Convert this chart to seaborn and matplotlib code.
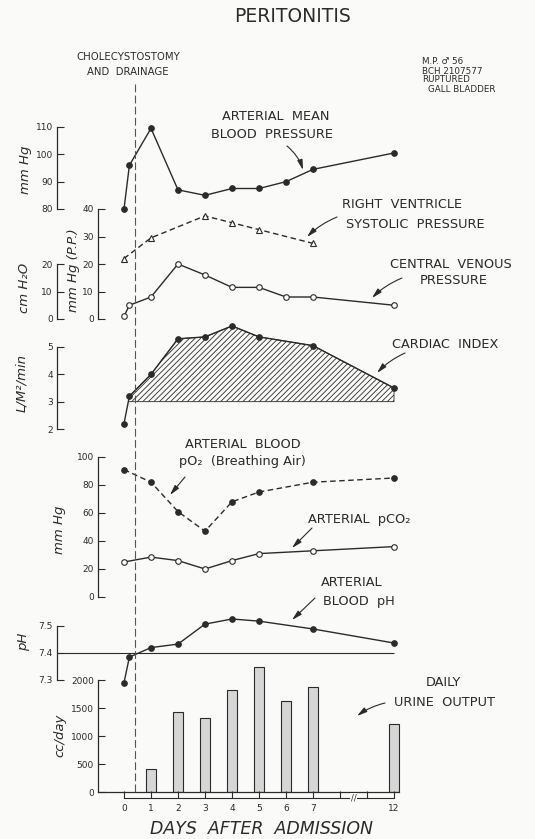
import numpy as np
import pandas as pd
import matplotlib
matplotlib.use("Agg")
import matplotlib.pyplot as plt
import seaborn as sns
from matplotlib.lines import Line2D
from matplotlib.transforms import blended_transform_factory

# ---------------- data ----------------
map_days = [0, 0.2, 1, 2, 3, 4, 5, 6, 7, 12]
map_vals = [80, 96, 109.5, 87, 85, 87.5, 87.5, 90, 94.5, 100.5]

rv_days = [0, 1, 3, 4, 5, 7]
rv_vals = [22, 29.5, 37.5, 35, 32.5, 27.5]

cvp_days = [0, 0.2, 1, 2, 3, 4, 5, 6, 7, 12]
cvp_vals = [1, 5, 8, 20, 16, 11.5, 11.5, 8, 8, 5]

ci_days = [0, 0.2, 1, 2, 3, 4, 5, 7, 12]
ci_vals = [2.2, 3.2, 4.0, 5.3, 5.37, 5.77, 5.37, 5.05, 3.5]
ci_base = 3.0

gas_days = [0, 1, 2, 3, 4, 5, 7, 12]
po2_vals = [91, 82, 61, 47, 68, 75, 82, 85]
pco2_vals = [25, 28.5, 26, 20, 26, 31, 33, 36]

ph_days = [0, 0.2, 1, 2, 3, 4, 5, 7, 12]
ph_vals = [7.29, 7.385, 7.42, 7.433, 7.507, 7.526, 7.518, 7.489, 7.437]
ph_ref = 7.4

urine_days = [1, 2, 3, 4, 5, 6, 7, 12]
urine_vals = [410, 1430, 1320, 1820, 2230, 1625, 1875, 1215]

x_tick_days = [0, 1, 2, 3, 4, 5, 6, 7, 8, 9, 10]
x_tick_labels = ["0", "1", "2", "3", "4", "5", "6", "7", "", "", "12"]
operation_day = 0.4


def to_pos(d):
    """broken time axis: days after 7 are compressed (day 12 -> position 10)"""
    d = np.asarray(d, dtype=float)
    return np.where(d <= 7, d, d - 2)


# ---------------- styling ----------------
W, H = 535, 839
X0, DX = 124, 27.0
RIGHT = 420
INK = "#2b2b2b"
BG = "#fafaf8"

sns.set_theme(style="white")
plt.rcParams.update({
    "font.family": ["DejaVu Sans"],
    "hatch.linewidth": 0.6,
    "hatch.color": INK,
    "text.color": INK,
})

fig = plt.figure(figsize=(W / 100, H / 100), dpi=100, facecolor=BG)


def px_axes(spine_px, top_px, bot_px, px0, v0, px1, v1):
    ax = fig.add_axes([spine_px / W, 1 - bot_px / H,
                       (RIGHT - spine_px) / W, (bot_px - top_px) / H])
    ax.set_xlim((spine_px - X0) / DX, (RIGHT - X0) / DX)
    s = (v1 - v0) / (px0 - px1)
    ax.set_ylim(v0 + (px0 - bot_px) * s, v0 + (px0 - top_px) * s)
    ax.patch.set_visible(False)
    for k in ["top", "right", "bottom"]:
        ax.spines[k].set_visible(False)
    ax.spines["left"].set_color(INK)
    ax.spines["left"].set_linewidth(0.9)
    ax.tick_params(axis="y", direction="in", length=5, width=0.8, colors=INK,
                   labelsize=6.5, pad=3, left=True)
    ax.set_xticks([])
    return ax


def line(ax, days, vals, filled=True, dashed=False, marker="o", ms=4):
    sns.lineplot(x=to_pos(days), y=vals, ax=ax, color=INK, lw=1.0,
                 linestyle=(0, (4, 2.5)) if dashed else "-",
                 marker=marker, markersize=ms,
                 markerfacecolor=INK if filled else "white",
                 markeredgecolor=INK, markeredgewidth=0.8, sort=False,
                 clip_on=False)
    ax.set_xlabel("")
    ax.set_ylabel("")


# Arterial mean blood pressure
ax1 = px_axes(57, 118, 215, 209, 80, 127, 110)
line(ax1, map_days, map_vals, filled=True)
ax1.set_yticks([80, 90, 100, 110])
ax1.spines["left"].set_bounds(80, 110)

# Right ventricle systolic pressure
ax2 = px_axes(98, 200, 325, 319, 0, 209, 40)
line(ax2, rv_days, rv_vals, filled=False, dashed=True, marker="^", ms=4)
ax2.set_yticks([0, 10, 20, 30, 40])
ax2.spines["left"].set_bounds(0, 40)

# Central venous pressure
ax3 = px_axes(57, 255, 325, 319, 0, 264, 20)
line(ax3, cvp_days, cvp_vals, filled=False)
ax3.set_yticks([0, 10, 20])
ax3.spines["left"].set_bounds(0, 20)

# Cardiac index
ax4 = px_axes(57, 310, 435, 429, 2, 347, 5)
cx = to_pos(ci_days)
cy = np.array(ci_vals)
ax4.fill_between(cx, cy, ci_base, where=cy >= ci_base, interpolate=True,
                 facecolor="none", edgecolor=INK, hatch="//////", linewidth=0.6)
line(ax4, ci_days, ci_vals, filled=True)
ax4.set_yticks([2, 3, 4, 5])
ax4.spines["left"].set_bounds(2, 5)

# Blood gases
ax5 = px_axes(98, 440, 600, 597, 0, 457, 100)
line(ax5, gas_days, po2_vals, filled=True, dashed=True)
line(ax5, gas_days, pco2_vals, filled=False)
ax5.set_yticks([0, 20, 40, 60, 80, 100])
ax5.spines["left"].set_bounds(0, 100)

# pH
ax6 = px_axes(57, 605, 690, 680, 7.3, 626, 7.5)
ax6.hlines(ph_ref, ax6.get_xlim()[0], to_pos(12), color=INK, lw=0.8)
line(ax6, ph_days, ph_vals, filled=True)
ax6.set_yticks([7.3, 7.4, 7.5])
ax6.set_yticklabels(["7.3", "7.4", "7.5"])
ax6.spines["left"].set_bounds(7.3, 7.5)

# Urine output
ax7 = px_axes(98, 650, 792, 792, 0, 680, 2000)
sns.barplot(x=to_pos(urine_days), y=urine_vals, ax=ax7, native_scale=True,
            width=0.4, color="#d6d6d6", edgecolor=INK, linewidth=0.8,
            errorbar=None, saturation=1)
ax7.set_xlim((98 - X0) / DX, (RIGHT - X0) / DX)
ax7.set_xticks([])
ax7.set_xlabel("")
ax7.set_ylabel("")
ax7.set_yticks([0, 500, 1000, 1500, 2000])
ax7.spines["left"].set_bounds(0, 2000)
ax7.spines["bottom"].set_visible(True)
ax7.spines["bottom"].set_color(INK)
ax7.spines["bottom"].set_linewidth(0.9)
ax7.spines["bottom"].set_bounds(ax7.get_xlim()[0], to_pos(12) + 0.2)

# x axis
axx = px_axes(98, 780, 798, 798, 0, 780, 1)
axx.spines["left"].set_visible(False)
axx.set_yticks([])
axx.spines["bottom"].set_visible(True)
axx.spines["bottom"].set_color(INK)
axx.spines["bottom"].set_linewidth(0.8)
axx.spines["bottom"].set_bounds(0, 10)
axx.set_xticks(x_tick_days)
axx.set_xticklabels(x_tick_labels)
axx.tick_params(axis="x", direction="in", length=5, width=0.8, colors=INK,
                labelsize=6.5, pad=4, bottom=True)
axx.text(8.5, 0, "//", transform=blended_transform_factory(axx.transData, axx.transAxes),
         ha="center", va="center", fontsize=6, color=INK,
         bbox=dict(facecolor=BG, edgecolor="none", pad=0.3))

# operation marker
fig.add_artist(Line2D([operation_day, operation_day], [1 - 84 / H, 1 - 795 / H],
                      transform=blended_transform_factory(axx.transData, fig.transFigure),
                      color="#555555", lw=0.8, linestyle=(0, (7, 3))))

# ---------------- text overlay ----------------
ov = fig.add_axes([0, 0, 1, 1])
ov.set_xlim(0, W)
ov.set_ylim(H, 0)
ov.axis("off")
ov.patch.set_visible(False)

ov.text(292, 16, "PERITONITIS", ha="center", va="center", fontsize=13.5)
ov.text(128, 57, "CHOLECYSTOSTOMY", ha="center", va="center", fontsize=7.3)
ov.text(128, 72, "AND  DRAINAGE", ha="center", va="center", fontsize=7.3)
for y, s, x in [(61, "M.P. \u2642 56", 422), (71, "BCH 2107577", 422),
                (80, "RUPTURED", 422), (89, "GALL BLADDER", 428)]:
    ov.text(x, y, s, ha="left", va="center", fontsize=6.3)

# y-axis labels
for x, y, s in [(25, 170, "mm Hg"), (73, 270, "mm Hg (P.P.)"),
                (25, 288, "cm H\u2082O"), (22, 383, "L/M\u00b2/min"),
                (60, 530, "mm Hg"), (24, 642, "pH"), (60, 735, "cc/day")]:
    ov.text(x, y, s, ha="center", va="center", rotation=90, fontsize=9.5,
            style="italic")

ov.text(262, 829, "DAYS  AFTER  ADMISSION", ha="center", va="center",
        fontsize=12.5, style="italic")

FS = 9.3
labels = [
    (276, 116, "ARTERIAL  MEAN"), (272, 134, "BLOOD  PRESSURE"),
    (402, 205, "RIGHT  VENTRICLE"), (415, 224, "SYSTOLIC  PRESSURE"),
    (451, 264, "CENTRAL  VENOUS"), (454, 280, "PRESSURE"),
    (445, 345, "CARDIAC  INDEX"),
    (243, 445, "ARTERIAL  BLOOD"), (242, 462, "pO\u2082  (Breathing Air)"),
    (359, 520, "ARTERIAL  pCO\u2082"),
    (352, 583, "ARTERIAL"), (359, 602, "BLOOD  pH"),
    (443, 683, "DAILY"), (445, 703, "URINE  OUTPUT"),
]
for x, y, s in labels:
    ov.text(x, y, s, ha="center", va="center", fontsize=FS)

arrows = [((287, 146), (303, 170), -0.15), ((337, 217), (307, 237), 0.1),
          ((402, 278), (372, 298), 0.1), ((405, 353), (377, 373), 0.1),
          ((185, 477), (170, 495), 0.0), ((312, 528), (292, 548), 0.0),
          ((315, 598), (292, 620), 0.0), ((385, 703), (357, 716), 0.1)]
for start, end, rad in arrows:
    ov.annotate("", xy=end, xytext=start,
                arrowprops=dict(arrowstyle="-|>,head_length=0.5,head_width=0.13",
                                color=INK, lw=0.8, shrinkA=0, shrinkB=0,
                                connectionstyle=f"arc3,rad={rad}"))

fig.savefig("out.png", dpi=100, facecolor=BG)
